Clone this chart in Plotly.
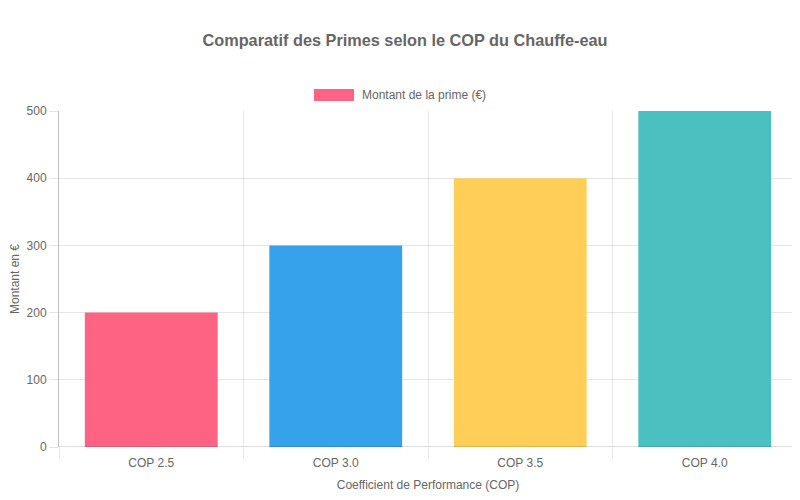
import plotly.graph_objects as go

# Data
categories = ['COP 2.5', 'COP 3.0', 'COP 3.5', 'COP 4.0']
primes = [200, 300, 400, 500]
bar_colors = ['#FF6384', '#36A2EB', '#FFCE56', '#4BC0C0']
y_ticks = [0, 100, 200, 300, 400, 500]

font = 'Liberation Sans, Arial, sans-serif'
grey = '#666666'

W, H = 792, 484

fig = go.Figure()

fig.add_trace(go.Bar(
    x=categories,
    y=primes,
    name='Montant de la prime (€)',
    marker=dict(color=bar_colors, line=dict(width=0)),
    width=0.72,
    showlegend=False,
))

fig.update_layout(
    width=W,
    height=H,
    margin=dict(l=51, r=3, t=103, b=45),
    plot_bgcolor='white',
    paper_bgcolor='white',
    font=dict(family=font, size=12, color=grey),
    title=dict(
        text='<b>Comparatif des Primes selon le COP du Chauffe-eau</b>',
        x=397 / W, xref='container', xanchor='center',
        y=1 - 32 / H, yref='container', yanchor='middle',
        font=dict(size=16.3, color=grey, family=font),
    ),
)

fig.update_xaxes(
    type='category',
    automargin=False,
    tickson='boundaries',
    ticks='outside',
    ticklen=10,
    tickcolor='rgba(0,0,0,0.1)',
    ticklabelstandoff=7,
    showgrid=True,
    gridcolor='rgba(0,0,0,0.1)',
    showline=False,
    title=dict(text='Coefficient de Performance (COP)', font=dict(size=12, color=grey), standoff=14),
    tickfont=dict(size=12, color=grey),
)

fig.update_yaxes(
    range=[0, 500],
    automargin=False,
    tickvals=y_ticks,
    ticks='outside',
    ticklen=9,
    tickcolor='rgba(0,0,0,0.1)',
    showgrid=True,
    gridcolor='rgba(0,0,0,0.1)',
    zeroline=False,
    showline=True,
    linecolor='rgba(0,0,0,0.25)',
    title=dict(text='Montant en €', font=dict(size=12, color=grey), standoff=10),
    tickfont=dict(size=12, color=grey),
)

# x axis baseline
fig.add_shape(type='line', xref='paper', yref='y', x0=0, x1=1, y0=0, y1=0,
              line=dict(color='rgba(0,0,0,0.25)', width=1))

# Legend drawn like Chart.js
fig.add_shape(type='rect', xref='paper', yref='paper',
              x0=(314 - 59) / 738, x1=(354 - 59) / 738,
              y0=(447 - 101) / 336, y1=(447 - 89) / 336,
              fillcolor='#FF6384', line=dict(width=0))
fig.add_annotation(text='Montant de la prime (€)', xref='paper', yref='paper',
                   x=(360 - 59) / 738, y=(447 - 95) / 336,
                   xanchor='left', yanchor='middle', showarrow=False,
                   font=dict(size=12, color=grey, family=font))

fig.write_html("out.html")
